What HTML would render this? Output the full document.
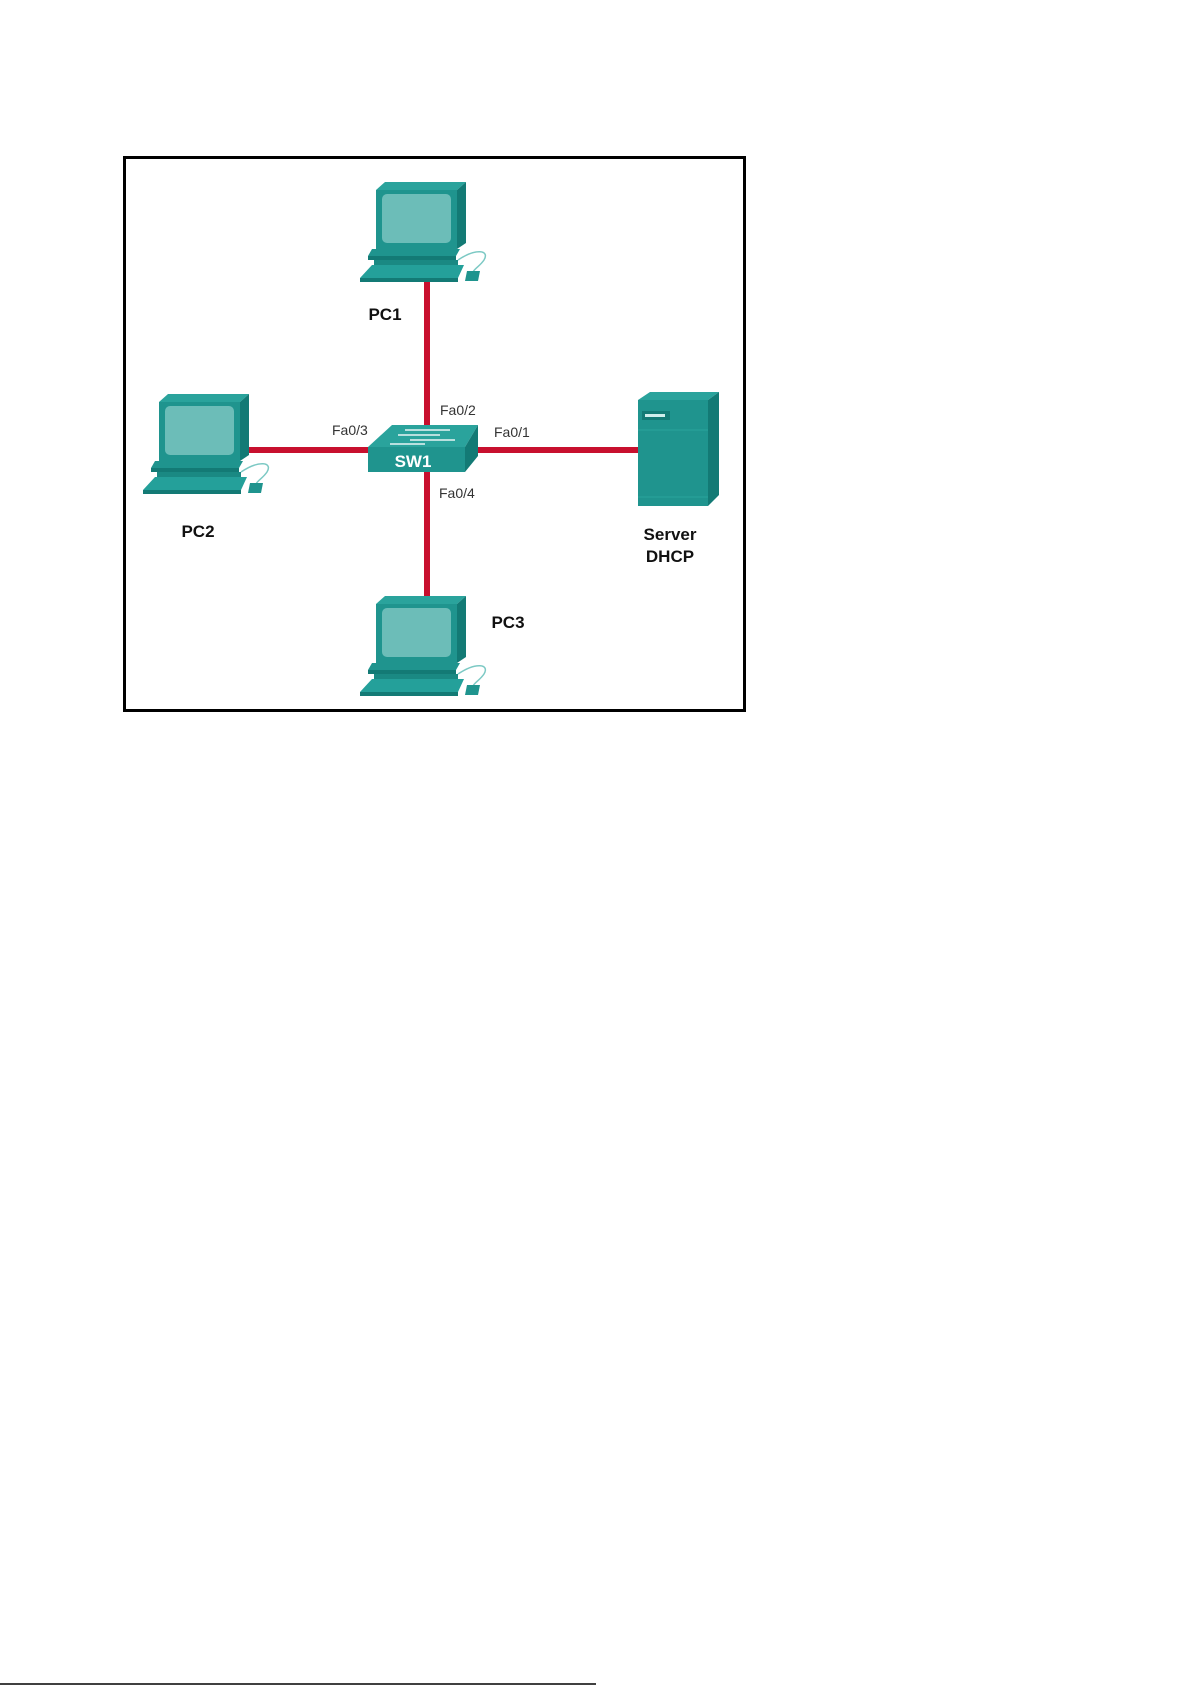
<!DOCTYPE html>
<html><head><meta charset="utf-8"><style>
html,body{margin:0;padding:0;background:#fff;}
svg{display:block;}
</style></head><body>
<svg width="1191" height="1685" viewBox="0 0 1191 1685" xmlns="http://www.w3.org/2000/svg">
<defs>
<g id="pc">
  <path d="M82,70 C100,58 114,60 108,70 C104,76 99,78 97,82" stroke="#7cc9c4" stroke-width="1.5" fill="none"/>
  <polygon points="0,0 9,-8 90,-8 81,0" fill="#2aa39c"/>
  <polygon points="81,0 90,-8 90,53 81,59" fill="#137a75"/>
  <rect x="0" y="0" width="81" height="59" fill="#1f948e"/>
  <rect x="6" y="4" width="69" height="49" rx="5" fill="#6cbdb8"/>
  <polygon points="-4,59 84,59 80,66 -8,66" fill="#1f948e"/>
  <polygon points="-8,66 80,66 80,70 -8,70" fill="#137a75"/>
  <polygon points="-2,70 82,70 82,75 -2,75" fill="#1a8983"/>
  <polygon points="-4,75 88,75 82,88 -16,88" fill="#24a09a"/>
  <polygon points="-16,88 82,88 82,92 -16,92" fill="#137a75"/>
  <polygon points="91,81 104,81 102,91 89,91" fill="#1f948e"/>
</g>
</defs>
<rect x="124.5" y="157.5" width="620" height="553" fill="none" stroke="#000" stroke-width="3"/>
<line x1="427" y1="280" x2="427" y2="600" stroke="#c8102e" stroke-width="6"/>
<line x1="242" y1="450" x2="640" y2="450" stroke="#c8102e" stroke-width="6"/>
<use href="#pc" x="376" y="190"/>
<use href="#pc" x="159" y="402"/>
<use href="#pc" x="376" y="604"/>
<polygon points="368,447 392,425 478,425 465,447" fill="#2aa39c"/>
<polygon points="465,447 478,425 478,456 465,472" fill="#137a75"/>
<rect x="368" y="447" width="97" height="25" fill="#1f948e"/>
<g stroke="#e8f4f3" stroke-width="1.5">
<line x1="405" y1="430" x2="450" y2="430"/><line x1="398" y1="435" x2="440" y2="435"/>
<line x1="410" y1="440" x2="455" y2="440"/><line x1="390" y1="444" x2="425" y2="444"/>
</g>
<text x="413" y="467" font-family="Liberation Sans, sans-serif" font-weight="bold" font-size="17" fill="#fff" text-anchor="middle">SW1</text>
<polygon points="638,400 650,392 719,392 708,400" fill="#2aa39c"/>
<polygon points="708,400 719,392 719,495 708,506" fill="#137a75"/>
<rect x="638" y="400" width="70" height="106" fill="#1f948e"/>
<line x1="638" y1="430" x2="708" y2="430" stroke="#2aa39c" stroke-width="1"/>
<line x1="638" y1="497" x2="708" y2="497" stroke="#2aa39c" stroke-width="1"/>
<rect x="642" y="411" width="28" height="9" fill="#137a75"/>
<rect x="645" y="414" width="20" height="3" fill="#cfeeec"/>
<g font-family="Liberation Sans, sans-serif" font-weight="bold" font-size="17" fill="#111" text-anchor="middle">
<text x="385" y="320">PC1</text>
<text x="198" y="537">PC2</text>
<text x="508" y="628">PC3</text>
<text x="670" y="540">Server</text>
<text x="670" y="562">DHCP</text>
</g>
<g font-family="Liberation Sans, sans-serif" font-size="14" fill="#333">
<text x="440" y="415">Fa0/2</text>
<text x="332" y="435">Fa0/3</text>
<text x="494" y="437">Fa0/1</text>
<text x="439" y="498">Fa0/4</text>
</g>
<line x1="0" y1="1684" x2="596" y2="1684" stroke="#000" stroke-width="1.5"/>
</svg>
</body></html>
